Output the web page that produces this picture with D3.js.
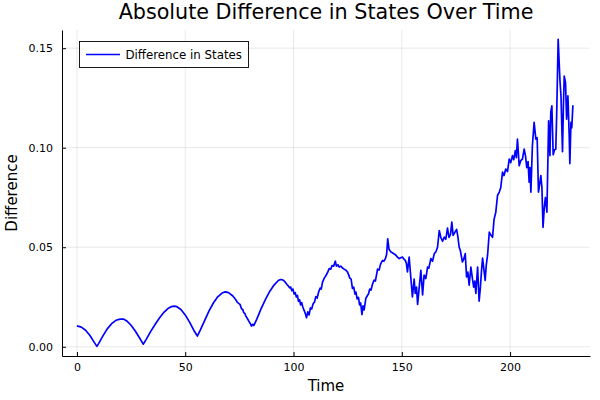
<!DOCTYPE html>
<html><head><meta charset="utf-8">
<script src="https://d3js.org/d3.v7.min.js"></script>
<style>body{margin:0;background:#fff}text{font-family:"DejaVu Sans",sans-serif;fill:#000}</style>
</head><body><svg id="c" width="600" height="400"></svg>
<script>
const chartTitle = "Absolute Difference in States Over Time";
const xLabel = "Time";
const yLabel = "Difference";
const seriesName = "Difference in States";
const timeRange = [0, 230];
const xTicks = [0, 50, 100, 150, 200];
const yTicks = [0.00, 0.05, 0.10, 0.15];

const times = [
0,2,4,6,8,9.2,10,12,14,16,18,20,21.5,23,25,27,29,30.6,
32,34,36,38,40,42,44,45,46,48,50,52,54,55.6,
57,59,61,63,65,67,68.5,70,72,73.5,74,74.8,75.3,76,76.6,77,77.6,78,78.7,79.3,80,80.6,81.2,81.7,82.3,
83,85,87,89,91,93,94,95,96,97,97.6,98.2,98.7,99.2,99.7,100.3,100.8,101.3,101.8,102.3,102.8,103.3,103.8,104.3,104.8,105.3,105.7,106,
106.6,107.2,107.8,108.4,109,109.7,110.3,110.9,111.6,112.3,112.8,113.4,114.2,115,115.8,116.5,117.2,117.8,118.5,119.3,119.8,120.5,121.1,121.8,122.6,123.4,124.2,124.9,125.5,126,126.6,127.2,127.8,128.4,128.8,129.4,130,130.5,131,131.6,132.1,132.6,133.4,134,134.6,135.2,135.8,136.5,137.2,137.8,138.8,139.5,140.2,141.1,141.8,142.5,143,143.5,144.1,145,146,147.3,148,148.8,149.5,150.3,151,151.6,152.1,152.6,153.4,154.2,154.9,155.7,156.2,156.8,157.3,158,158.8,159.6,160.3,161.1,161.9,
162.5,163.4,164.2,165,165.7,166.5,167.3,168,168.8,169.6,170.3,171.1,171.8,172.5,173.1,173.7,174.5,175.3,175.8,176.5,177,177.5,178,178.6,179.3,179.9,180.5,181.1,181.9,182.6,183.2,183.7,184.2,185,185.7,186.3,186.8,187.3,188,188.5,189,189.6,190.4,191.2,191.9,192.6,193.4,194.2,195,195.7,196.5,197.2,198,198.8,199.6,200.3,201.1,201.7,202.4,202.9,203.4,204.2,204.9,205.7,206.5,207.1,207.7,208.3,208.8,209.2,209.6,210.3,211.1,211.9,212.5,213.1,213.7,214.2,214.7,215.2,215.8,216.3,217,217.8,218.4,218.8,219.3,219.9,220.5,221.1,221.5,222.2,223,223.5,224.2,224.6,225,225.6,226.1,226.7,227.3,227.6,228.1,228.5,229
];
const diffs = [
0.0105,0.0099,0.0083,0.0057,0.0022,0.0002,0.0016,0.0055,0.0090,0.0116,0.0133,0.0139,0.0139,0.0130,0.0108,0.0078,0.0043,0.0013,
0.0037,0.0076,0.0111,0.0143,0.0171,0.0192,0.0203,0.0204,0.0202,0.0187,0.0160,0.0124,0.0082,0.0054,
0.0085,0.0133,0.0180,0.0220,0.0251,0.0270,0.0276,0.0272,0.0255,0.0234,0.0224,0.0217,0.0213,0.0191,0.0186,0.0172,0.0166,0.0154,0.0142,0.0130,0.0117,0.0104,0.0113,0.0107,0.0121,
0.0138,0.0190,0.0237,0.0278,0.0310,0.0333,0.0338,0.0336,0.0327,0.0313,0.0305,0.0296,0.0300,0.0282,0.0290,0.0265,0.0272,0.0250,0.0258,0.0228,0.0236,0.0210,0.0222,0.0200,0.0185,0.0172,0.0158,0.0146,
0.0175,0.0160,0.0195,0.0190,0.0215,0.0225,0.0252,0.0245,0.0275,0.0295,0.0290,0.0325,0.0345,0.0358,0.0375,0.0393,0.0390,0.0408,0.0405,0.0430,0.0405,0.0412,0.0400,0.0405,0.0396,0.0390,0.0385,0.0376,0.0360,0.0345,0.0340,0.0293,0.0300,0.0265,0.0275,0.0240,0.0248,0.0210,0.0220,0.0162,0.0205,0.0185,0.0243,0.0255,0.0265,0.0290,0.0285,0.0315,0.0335,0.0330,0.0390,0.0385,0.0415,0.0434,0.0430,0.0445,0.0465,0.0542,0.0490,0.0476,0.0470,0.0460,0.0450,0.0443,0.0447,0.0451,0.0440,0.0434,0.0420,0.0376,0.0450,0.0343,0.0251,0.0340,0.0268,0.0300,0.0213,0.0293,0.0384,0.0260,0.0360,0.0343,0.0400,
0.0395,0.0443,0.0430,0.0468,0.0476,0.0500,0.0584,0.0550,0.0530,0.0551,0.0540,0.0596,0.0550,0.0565,0.0626,0.0560,0.0575,0.0590,0.0560,0.0500,0.0485,0.0455,0.0426,0.0440,0.0468,0.0351,0.0375,0.0310,0.0400,0.0343,0.0300,0.0330,0.0268,0.0400,0.0229,0.0300,0.0380,0.0446,0.0380,0.0334,0.0410,0.0460,0.0576,0.0560,0.0550,0.0640,0.0676,0.0760,0.0777,0.0800,0.0877,0.0860,0.0893,0.0880,0.0943,0.0925,0.0960,0.0940,0.0985,0.0950,0.1043,0.0910,0.0935,0.0943,0.0993,0.0960,0.0900,0.0930,0.0827,0.0900,0.0777,0.1010,0.1127,0.1043,0.1050,0.0777,0.0820,0.0860,0.0800,0.0600,0.0700,0.0750,0.0676,0.1135,0.0960,0.1180,0.1210,0.0965,0.0990,0.0993,0.1160,0.1545,0.1343,0.1260,0.0980,0.1200,0.1360,0.1327,0.1143,0.1260,0.1060,0.0920,0.1127,0.1100,0.1213
];

const data = times.map((t, i) => ({t, v: diffs[i]}));
const svg = d3.select("#c");
const L = 62, R = 590, T = 30, B = 356;

const xPad = (timeRange[1] - timeRange[0]) * 0.03;
const x = d3.scaleLinear().domain([timeRange[0] - xPad, timeRange[1] + xPad]).range([L, R]);
const yMax = d3.max(diffs), yMin = 0;
const yPad = (yMax - yMin) * 0.03;
const y = d3.scaleLinear().domain([yMin - yPad, yMax + yPad]).range([B, T]);

// grid
const grid = svg.append("g").attr("stroke", "#000").attr("stroke-opacity", 0.09).attr("stroke-width", 1);
grid.selectAll(".gx").data(xTicks).join("line")
  .attr("x1", d => x(d)).attr("x2", d => x(d)).attr("y1", T).attr("y2", B);
grid.selectAll(".gy").data(yTicks).join("line")
  .attr("x1", L).attr("x2", R).attr("y1", d => y(d)).attr("y2", d => y(d));

// axes
const xAxis = d3.axisBottom(x).tickValues(xTicks).tickFormat(d3.format("d")).tickSizeInner(-4).tickSizeOuter(0).tickPadding(7);
const yAxis = d3.axisLeft(y).tickValues(yTicks).tickFormat(d3.format(".2f")).tickSizeInner(-4).tickSizeOuter(0).tickPadding(9);
const gx = svg.append("g").attr("transform", `translate(0,${B})`).call(xAxis);
const gy = svg.append("g").attr("transform", `translate(${L},0)`).call(yAxis);
[gx, gy].forEach(g => {
  g.select(".domain").attr("stroke", "#000").attr("stroke-width", 1);
  g.selectAll(".tick line").attr("stroke", "#000").attr("stroke-width", 1);
  g.selectAll(".tick text").style("font-family", "DejaVu Sans, sans-serif").style("font-size", "11px").attr("fill", "#000");
});

// line
const line = d3.line().x(d => x(d.t)).y(d => y(d.v));
svg.append("path").datum(data).attr("d", line)
  .attr("fill", "none").attr("stroke", "#0000ff").attr("stroke-width", 1.7).attr("stroke-linejoin", "round");

// title and labels
svg.append("text").attr("x", (L + R) / 2).attr("y", 19).attr("text-anchor", "middle")
  .style("font-size", "20.7px").text(chartTitle);
svg.append("text").attr("x", (L + R) / 2).attr("y", 391).attr("text-anchor", "middle")
  .style("font-size", "15px").text(xLabel);
svg.append("text").attr("transform", `translate(17,${(T + B) / 2}) rotate(-90)`).attr("text-anchor", "middle")
  .style("font-size", "15px").text(yLabel);

// legend
const lg = svg.append("g");
lg.append("rect").attr("x", 79.5).attr("y", 41.5).attr("width", 169).attr("height", 26)
  .attr("fill", "#fff").attr("stroke", "#000").attr("stroke-width", 0.9);
lg.append("line").attr("x1", 86).attr("x2", 120).attr("y1", 54.5).attr("y2", 54.5)
  .attr("stroke", "#0000ff").attr("stroke-width", 1.7);
lg.append("text").attr("x", 125.5).attr("y", 58.7).style("font-size", "11.8px").text(seriesName);
</script></body></html>
